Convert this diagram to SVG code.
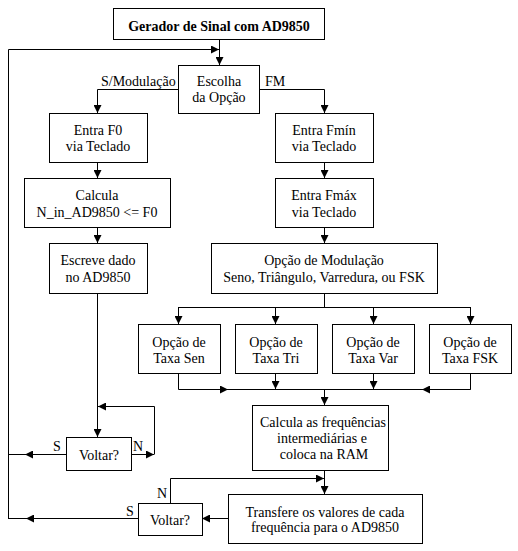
<svg xmlns="http://www.w3.org/2000/svg" width="518" height="551" viewBox="0 0 518 551">
<defs>
<marker id="ah" viewBox="0 0 8 8" refX="8" refY="4" markerWidth="8" markerHeight="8" markerUnits="userSpaceOnUse" orient="auto">
<path d="M0,0 L8,4 L0,8 z" fill="#000"/>
</marker>
</defs>
<rect x="0" y="0" width="518" height="551" fill="#fff"/>
<g id="connectors" fill="none" stroke="#000" stroke-width="1">
<path marker-end="url(#ah)" d="M219.5,39 V65"/>
<path marker-end="url(#ah)" d="M8.5,518 V49.5 H219"/>
<path marker-end="url(#ah)" d="M178,89.5 H97.5 V113"/>
<path marker-end="url(#ah)" d="M259,89.5 H324.5 V113"/>
<path marker-end="url(#ah)" d="M97.5,162 V178"/>
<path marker-end="url(#ah)" d="M324.5,162 V178"/>
<path marker-end="url(#ah)" d="M97.5,227 V243"/>
<path marker-end="url(#ah)" d="M324.5,227 V243"/>
<path marker-end="url(#ah)" d="M97.5,293 V437"/>
<path marker-end="url(#ah)" d="M131,454.5 H154"/>
<path marker-end="url(#ah)" d="M154.5,454.5 V406.5 H98"/>
<path marker-end="url(#ah)" d="M66,454.5 H25"/>
<path d="M25,454.5 H8"/>
<path d="M324.5,293 V307.5"/>
<path d="M178.5,307.5 H470.5"/>
<path marker-end="url(#ah)" d="M178.5,307 V324"/>
<path marker-end="url(#ah)" d="M275.5,307 V324"/>
<path marker-end="url(#ah)" d="M373.5,307 V324"/>
<path marker-end="url(#ah)" d="M470.5,307 V324"/>
<path marker-end="url(#ah)" d="M178.5,373 V389.5 H228"/>
<path d="M228,389.5 H470.5"/>
<path marker-end="url(#ah)" d="M275.5,373 V389"/>
<path marker-end="url(#ah)" d="M373.5,373 V389"/>
<path marker-end="url(#ah)" d="M470.5,373 V389.5 H422"/>
<path marker-end="url(#ah)" d="M324.5,389 V405"/>
<path marker-end="url(#ah)" d="M324.5,470 V494"/>
<path marker-end="url(#ah)" d="M170.5,503 V478.5 H324"/>
<path marker-end="url(#ah)" d="M228,518.5 H202"/>
<path marker-end="url(#ah)" d="M138,518.5 H26"/>
<path d="M26,518.5 H8"/>
</g>
<g id="title"><rect x="113.5" y="8.5" width="211" height="31" fill="#fff" stroke="#000"/><text x="219" y="31" font-family="Liberation Serif" font-size="14" font-weight="bold" text-anchor="middle">Gerador de Sinal com AD9850</text></g>
<g id="escolha"><rect x="178.5" y="65.5" width="81" height="48" fill="#fff" stroke="#000"/><text x="219" y="86" font-family="Liberation Serif" font-size="14" text-anchor="middle">Escolha</text><text x="219" y="102" font-family="Liberation Serif" font-size="14" text-anchor="middle">da Opção</text></g>
<g id="lbl-smod"><text x="101" y="86" font-family="Liberation Serif" font-size="14">S/Modulação</text></g>
<g id="lbl-fm"><text x="265" y="86" font-family="Liberation Serif" font-size="14">FM</text></g>
<g id="entraf0"><rect x="49.5" y="113.5" width="98" height="49" fill="#fff" stroke="#000"/><text x="98" y="135" font-family="Liberation Serif" font-size="14" text-anchor="middle">Entra F0</text><text x="98" y="151" font-family="Liberation Serif" font-size="14" text-anchor="middle">via Teclado</text></g>
<g id="entrafmin"><rect x="275.5" y="113.5" width="98" height="49" fill="#fff" stroke="#000"/><text x="324" y="135" font-family="Liberation Serif" font-size="14" text-anchor="middle">Entra Fmín</text><text x="324" y="151" font-family="Liberation Serif" font-size="14" text-anchor="middle">via Teclado</text></g>
<g id="calcula"><rect x="24.5" y="178.5" width="146" height="49" fill="#fff" stroke="#000"/><text x="97" y="200" font-family="Liberation Serif" font-size="14" text-anchor="middle">Calcula</text><text x="97" y="217" font-family="Liberation Serif" font-size="14" text-anchor="middle">N_in_AD9850 &lt;= F0</text></g>
<g id="entrafmax"><rect x="275.5" y="178.5" width="98" height="49" fill="#fff" stroke="#000"/><text x="324" y="200" font-family="Liberation Serif" font-size="14" text-anchor="middle">Entra Fmáx</text><text x="324" y="217" font-family="Liberation Serif" font-size="14" text-anchor="middle">via Teclado</text></g>
<g id="escreve"><rect x="49.5" y="243.5" width="98" height="50" fill="#fff" stroke="#000"/><text x="98" y="265" font-family="Liberation Serif" font-size="14" text-anchor="middle">Escreve dado</text><text x="98" y="282" font-family="Liberation Serif" font-size="14" text-anchor="middle">no AD9850</text></g>
<g id="opmod"><rect x="211.5" y="243.5" width="226" height="50" fill="#fff" stroke="#000"/><text x="324" y="265" font-family="Liberation Serif" font-size="14" text-anchor="middle">Opção de Modulação</text><text x="324" y="282" font-family="Liberation Serif" font-size="14" text-anchor="middle">Seno, Triângulo, Varredura, ou FSK</text></g>
<g id="taxasen"><rect x="138.5" y="324.5" width="82" height="49" fill="#fff" stroke="#000"/><text x="179" y="347" font-family="Liberation Serif" font-size="14" text-anchor="middle">Opção de</text><text x="179" y="363" font-family="Liberation Serif" font-size="14" text-anchor="middle">Taxa Sen</text></g>
<g id="taxatri"><rect x="235.5" y="324.5" width="82" height="49" fill="#fff" stroke="#000"/><text x="276" y="347" font-family="Liberation Serif" font-size="14" text-anchor="middle">Opção de</text><text x="276" y="363" font-family="Liberation Serif" font-size="14" text-anchor="middle">Taxa Tri</text></g>
<g id="taxavar"><rect x="332.5" y="324.5" width="82" height="49" fill="#fff" stroke="#000"/><text x="373" y="347" font-family="Liberation Serif" font-size="14" text-anchor="middle">Opção de</text><text x="373" y="363" font-family="Liberation Serif" font-size="14" text-anchor="middle">Taxa Var</text></g>
<g id="taxafsk"><rect x="429.5" y="324.5" width="82" height="49" fill="#fff" stroke="#000"/><text x="470" y="347" font-family="Liberation Serif" font-size="14" text-anchor="middle">Opção de</text><text x="470" y="363" font-family="Liberation Serif" font-size="14" text-anchor="middle">Taxa FSK</text></g>
<g id="calcfreq"><rect x="252.5" y="405.5" width="136" height="65" fill="#fff" stroke="#000"/><text x="323" y="427" font-family="Liberation Serif" font-size="14" text-anchor="middle">Calcula as frequências</text><text x="322" y="443" font-family="Liberation Serif" font-size="14" text-anchor="middle">intermediárias e</text><text x="324" y="459" font-family="Liberation Serif" font-size="14" text-anchor="middle">coloca na RAM</text></g>
<g id="voltar1"><rect x="66.5" y="437.5" width="65" height="33" fill="#fff" stroke="#000"/><text x="99" y="460" font-family="Liberation Serif" font-size="14" text-anchor="middle">Voltar?</text></g>
<g id="lbl-s1"><text x="53" y="451" font-family="Liberation Serif" font-size="14">S</text></g>
<g id="lbl-n1"><text x="133" y="451" font-family="Liberation Serif" font-size="14">N</text></g>
<g id="transfere"><rect x="228.5" y="494.5" width="194" height="49" fill="#fff" stroke="#000"/><text x="325" y="517" font-family="Liberation Serif" font-size="14" text-anchor="middle">Transfere os valores de cada</text><text x="325" y="532" font-family="Liberation Serif" font-size="14" text-anchor="middle">frequência para o AD9850</text></g>
<g id="voltar2"><rect x="138.5" y="503.5" width="64" height="32" fill="#fff" stroke="#000"/><text x="170" y="525" font-family="Liberation Serif" font-size="14" text-anchor="middle">Voltar?</text></g>
<g id="lbl-n2"><text x="157" y="498" font-family="Liberation Serif" font-size="14">N</text></g>
<g id="lbl-s2"><text x="126" y="516" font-family="Liberation Serif" font-size="14">S</text></g>
</svg>
